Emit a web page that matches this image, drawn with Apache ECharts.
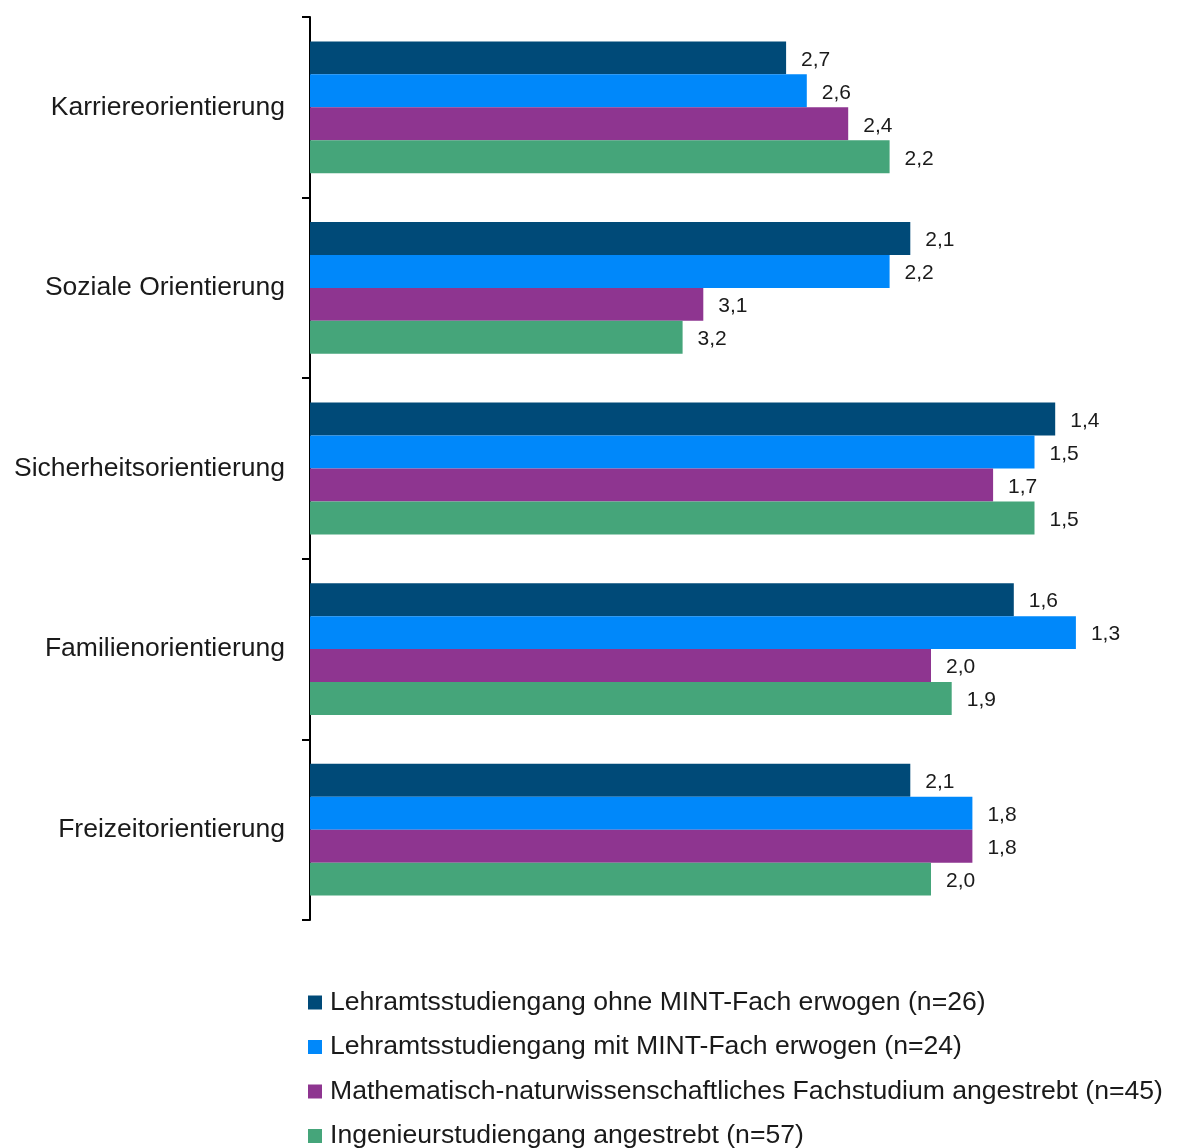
<!DOCTYPE html>
<html>
<head>
<meta charset="utf-8">
<script src="https://cdn.jsdelivr.net/npm/echarts@6/dist/echarts.min.js"></script>
<style>html,body{margin:0;padding:0;background:#fff}#c{width:1183px;height:1148px}</style>
</head>
<body>
<div id="c"></div>
<script>
const categories = ['Karriereorientierung', 'Soziale Orientierung', 'Sicherheitsorientierung', 'Familienorientierung', 'Freizeitorientierung'];
const seriesNames = [
  'Lehramtsstudiengang ohne MINT-Fach erwogen (n=26)',
  'Lehramtsstudiengang mit MINT-Fach erwogen (n=24)',
  'Mathematisch-naturwissenschaftliches Fachstudium angestrebt (n=45)',
  'Ingenieurstudiengang angestrebt (n=57)'
];
const lehramtOhneMint = [2.7, 2.1, 1.4, 1.6, 2.1];
const lehramtMitMint = [2.6, 2.2, 1.5, 1.3, 1.8];
const mathNat = [2.4, 3.1, 1.7, 2.0, 1.8];
const ingenieur = [2.2, 3.2, 1.5, 1.9, 2.0];
const colors = ['#004a78', '#0088fa', '#8e3590', '#45a57a'];
const scaleMax = 5; // scale runs from 5 (left) to 1 (right)

const allValues = [lehramtOhneMint, lehramtMitMint, mathNat, ingenieur];
const font = '"Liberation Sans", Arial, sans-serif';

const chart = echarts.init(document.getElementById('c'));
chart.setOption({
  animation: false,
  textStyle: { fontFamily: font },
  color: colors,
  grid: { left: 310, right: 45, top: 17, bottom: 228, containLabel: false },
  xAxis: {
    type: 'value', min: 0, max: scaleMax - 1, show: false
  },
  yAxis: {
    type: 'category', data: categories, inverse: true,
    axisLine: { show: true, lineStyle: { color: '#000', width: 2 } },
    axisTick: { show: true, length: 8, lineStyle: { color: '#000', width: 2 } },
    axisLabel: { fontSize: 26.5, color: '#1a1a1a', margin: 25, fontFamily: font, padding: [3, 0, 0, 0] }
  },
  legend: {
    orient: 'vertical', left: 308, top: 989, padding: 0,
    width: 870, height: 200,
    itemWidth: 14, itemHeight: 14, itemGap: 17.5,
    icon: 'rect',
    textStyle: { fontSize: 26.6, color: '#1a1a1a', fontFamily: font, padding: [0, 0, 0, 3] },
    data: seriesNames
  },
  series: allValues.map((vals, i) => ({
    type: 'bar', name: seriesNames[i],
    data: vals.map(v => +(scaleMax - v).toFixed(2)),
    barGap: '0%', barCategoryGap: '27%',
    itemStyle: { color: colors[i] },
    label: {
      show: true, position: 'right', distance: 15, offset: [0, 2],
      fontSize: 21, color: '#1a1a1a', fontFamily: font,
      formatter: p => vals[p.dataIndex].toFixed(1).replace('.', ',')
    }
  }))
});
</script>
</body>
</html>
